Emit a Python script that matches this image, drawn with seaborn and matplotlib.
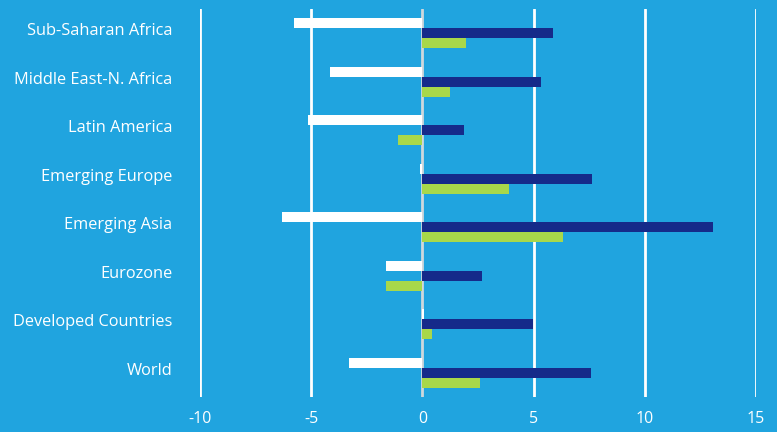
import numpy as np
import pandas as pd
import matplotlib
matplotlib.use("Agg")
import matplotlib.pyplot as plt
import matplotlib.transforms as mtransforms
import seaborn as sns

regions = ["Sub-Saharan Africa", "Middle East-N. Africa", "Latin America",
           "Emerging Europe", "Emerging Asia", "Eurozone",
           "Developed Countries", "World"]
series = ["2009", "2010", "2011"]
vals_2009 = [-5.78, -4.16, -5.13, -0.10, -6.31, -1.62, 0.07, -3.29]
vals_2010 = [5.87, 5.35, 1.89, 7.63, 13.05, 2.67, 4.99, 7.60]
vals_2011 = [1.98, 1.22, -1.11, 3.91, 6.32, -1.62, 0.44, 2.58]
x_ticks = [-10, -5, 0, 5, 10, 15]

bg = "#20a4df"
colors = ["#ffffff", "#152a8a", "#a8d84a"]

df = pd.DataFrame({
    "region": regions * 3,
    "series": np.repeat(series, len(regions)),
    "value": vals_2009 + vals_2010 + vals_2011,
})

sns.set_style("white")
plt.rcParams["font.family"] = ["Open Sans", "DejaVu Sans"]

fig = plt.figure(figsize=(7.77, 4.32), dpi=100, facecolor=bg)
ax = fig.add_axes([200 / 777, 1 - 397 / 432, 556 / 777, 388 / 432])
ax.set_facecolor(bg)

# vertical gridlines, zero line slightly grey
for t in x_ticks:
    ax.axvline(t, color="#ffffff" if t != 0 else "#cfd8dc", lw=2, zorder=0)

sns.barplot(data=df, y="region", x="value", hue="series", orient="h",
            palette=colors, width=0.62, saturation=1, order=regions,
            hue_order=series, legend=False, linewidth=0, ax=ax, zorder=2)

ax.set_xlim(-10, 15)
ax.set_ylim(7.5, -0.5)
ax.set_xticks(x_ticks)
ax.set_xticklabels([str(t) for t in x_ticks])
ax.set_xlabel("")
ax.set_ylabel("")
for s in ax.spines.values():
    s.set_visible(False)
ax.tick_params(axis="both", length=0, colors="white", labelsize=11.5)
ax.tick_params(axis="x", pad=10)
ax.tick_params(axis="y", labelsize=11.8, pad=27)

# region labels sit a little above their bar groups
offset = mtransforms.ScaledTranslation(0.1, 4 / 100, fig.dpi_scale_trans)
for lbl in ax.get_yticklabels():
    lbl.set_transform(lbl.get_transform() + offset)

fig.savefig("out.png", dpi=100, facecolor=bg)
